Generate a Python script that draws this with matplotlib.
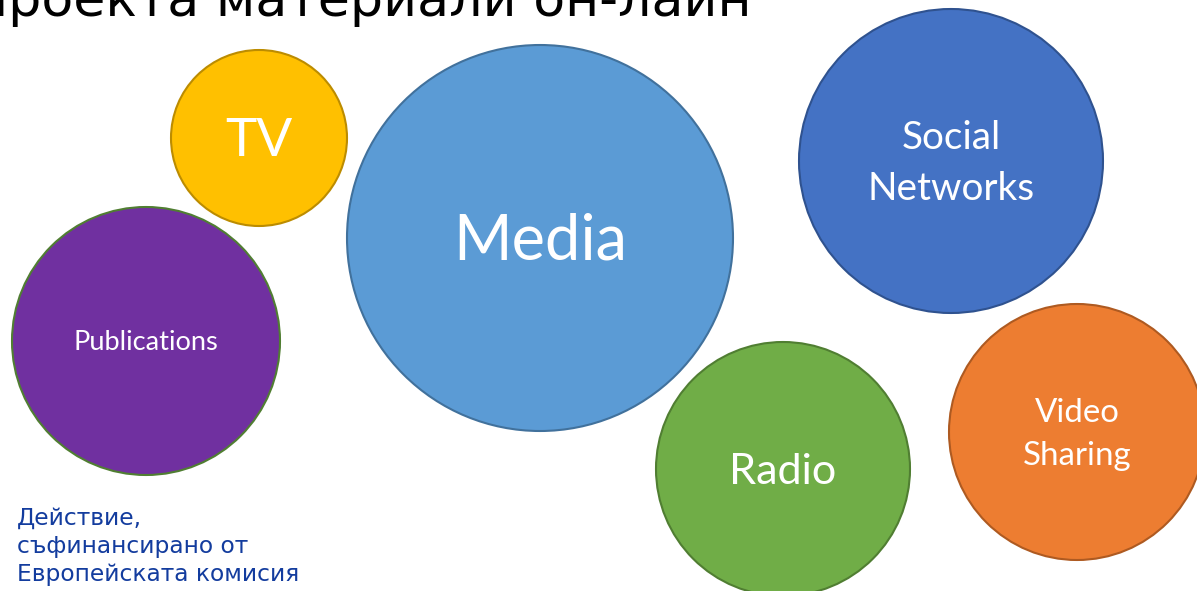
import matplotlib
matplotlib.use("Agg")
import matplotlib.pyplot as plt
from matplotlib.patches import Circle

#%% --- Data ---

labels = ["TV", "Media", "Social\nNetworks", "Publications", "Radio", "Video\nSharing"]
center_x = [259, 540, 951, 146, 783, 1077]
center_y = [138, 238, 161, 341, 469, 432]
radius = [88, 193, 152, 134, 127, 128]

title_text = "проекта материали он-лайн"
footer_lines = ["Действие,", "съфинансирано от", "Европейската комисия"]

#%% --- Styles ---

fill_colors = ["#FFC000", "#5B9BD5", "#4472C4", "#7030A0", "#70AD47", "#ED7D31"]
edge_colors = ["#BC8C00", "#41719C", "#2F528F", "#507E32", "#507E32", "#AE5A21"]
cap_heights = [37, 44, 27, 19, 30, 23]   # label cap height in pixels

W, H = 1197, 591

#%% --- Plot ---

fig = plt.figure(figsize=(W / 100, H / 100), dpi=100)
ax = fig.add_axes([0, 0, 1, 1])
ax.set_xlim(0, W)
ax.set_ylim(H, 0)
ax.axis("off")

for label, cx, cy, r, fc, ec, cap in zip(labels, center_x, center_y, radius,
                                          fill_colors, edge_colors, cap_heights):
    ax.add_patch(Circle((cx, cy), r, facecolor=fc, edgecolor=ec, linewidth=1.5))
    lines = label.split("\n")
    fs = cap / 0.7165 * 0.72 * 1.03
    gap = 1.9 * cap
    block = cap + (len(lines) - 1) * gap
    y0 = cy - block / 2 + cap
    for i, line in enumerate(lines):
        ax.text(cx, y0 + i * gap, line, ha="center", va="baseline",
                fontsize=fs, family="Lato", color="white")

# Title, cut off at the top edge; fit the font size to the visible width
renderer = fig.canvas.get_renderer()
probe = ax.text(0, 0, title_text[1:], fontsize=40, family="DejaVu Sans")
w_rest = probe.get_window_extent(renderer).width
probe.remove()
title_fs = 40 * 742 / w_rest

probe = ax.text(0, 0, title_text[:2], fontsize=title_fs, family="DejaVu Sans")
w_two = probe.get_window_extent(renderer).width
probe.remove()
probe = ax.text(0, 0, title_text[1], fontsize=title_fs, family="DejaVu Sans")
w_one = probe.get_window_extent(renderer).width
probe.remove()

ax.text(8 - (w_two - w_one), 16, title_text, ha="left", va="baseline",
        fontsize=title_fs, family="DejaVu Sans", color="black")

# Footer
for i, line in enumerate(footer_lines):
    ax.text(17, 525 + i * 28, line, ha="left", va="baseline",
            fontsize=16.8, family="DejaVu Sans", color="#133C9E")

fig.savefig("out.png", dpi=100)
